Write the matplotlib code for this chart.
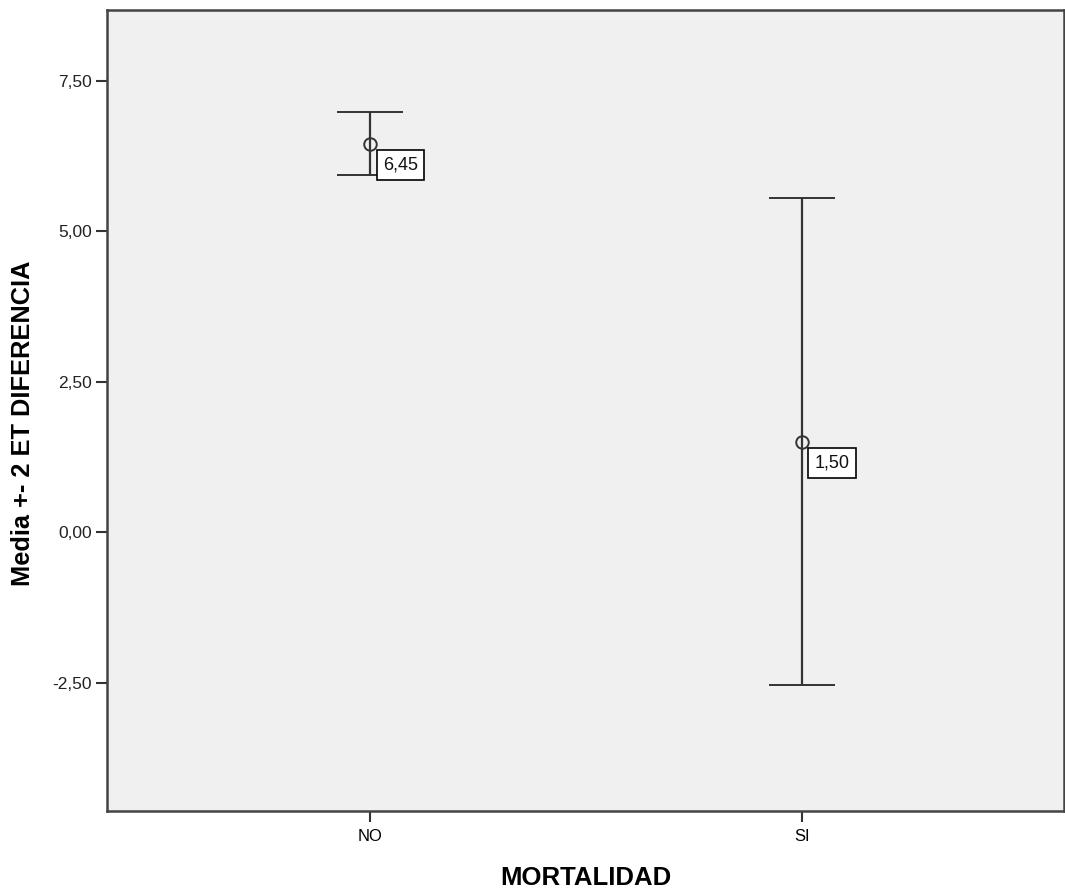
import matplotlib.pyplot as plt

plt.rcParams['font.family'] = ['Liberation Sans', 'DejaVu Sans']

# data
groups = ['NO', 'SI']
means = [6.45, 1.50]
upper = [6.98, 5.55]
lower = [5.94, -2.54]
labels = ['6,45', '1,50']
yticks = [-2.5, 0.0, 2.5, 5.0, 7.5]
ytick_labels = ['-2,50', '0,00', '2,50', '5,00', '7,50']

x = [1, 2]
err_lo = [m - l for m, l in zip(means, lower)]
err_hi = [u - m for m, u in zip(means, upper)]

fig = plt.figure(figsize=(10.65, 8.93), dpi=100)
ax = fig.add_axes([107/1065, 1 - 811/893, (1064-107)/1065, (811-10)/893])
ax.set_facecolor('#f0f0f0')

ax.errorbar(x, means, yerr=[err_lo, err_hi], fmt='o', color='#333333',
            mfc='none', mec='#333333', markersize=9, mew=1.4,
            elinewidth=1.6, capsize=24, capthick=1.6)

for xi, m, lab in zip(x, means, labels):
    ax.annotate(lab, (xi, m), xytext=(9, -9), textcoords='offset points',
                ha='left', va='top', fontsize=13, color='#111111',
                bbox=dict(boxstyle='square,pad=0.35', fc='white', ec='black', lw=1.2))

ax.set_xlim(0.39, 2.606)
ax.set_ylim(-4.63, 8.68)
ax.set_xticks(x)
ax.set_xticklabels(groups, fontsize=12)
ax.set_yticks(yticks)
ax.set_yticklabels(ytick_labels, fontsize=12.5, color='#222222')
ax.tick_params(axis='both', direction='out', length=8, width=1.5, color='#333333')
ax.tick_params(axis='y', pad=3)
ax.tick_params(axis='x', pad=5)

for s in ax.spines.values():
    s.set_color('#444444')
    s.set_linewidth(1.8)

ax.set_xlabel('MORTALIDAD', fontsize=18.5, fontweight='bold', va='center')
ax.xaxis.set_label_coords(0.5, -0.0836)
ax.set_ylabel('Media +- 2 ET DIFERENCIA', fontsize=18.3, fontweight='bold', va='center')
ax.yaxis.set_label_coords(-0.088, 0.484)

fig.savefig('out.png', dpi=100)
